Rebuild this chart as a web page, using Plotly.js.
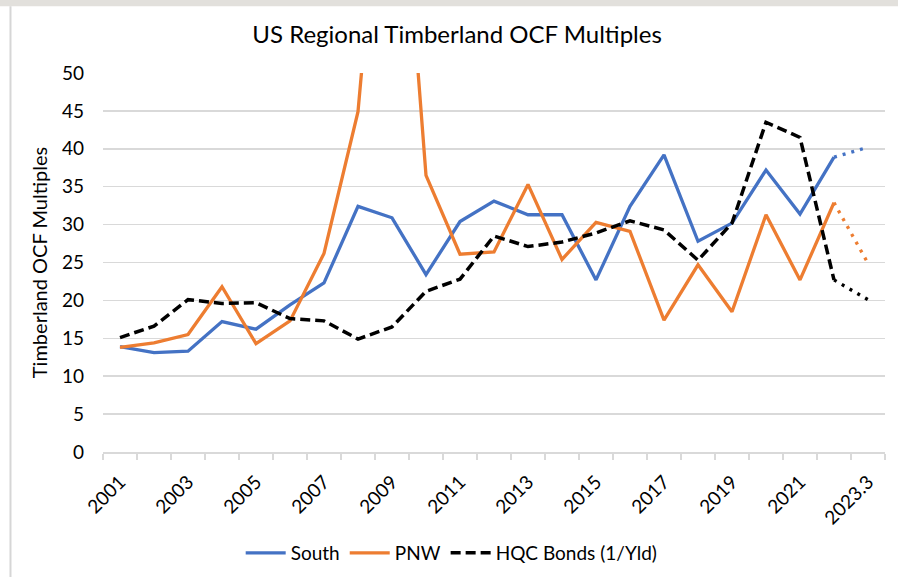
<!DOCTYPE html>
<html>
<head>
<meta charset="utf-8">
<script src="https://cdn.plot.ly/plotly-3.0.1.min.js"></script>
<style>
  html, body { margin: 0; padding: 0; background: #fff; }
  #chart { width: 898px; height: 577px; }
</style>
</head>
<body>
<div id="chart"></div>
<script>
const years = ["2001","2002","2003","2004","2005","2006","2007","2008","2009","2010","2011","2012","2013","2014","2015","2016","2017","2018","2019","2020","2021","2022","2023.3"];
const tickLabels = ["2001","","2003","","2005","","2007","","2009","","2011","","2013","","2015","","2017","","2019","","2021","","2023.3"];

const south = [13.9,13.1,13.3,17.2,16.2,19.4,22.3,32.4,30.9,23.4,30.4,33.1,31.3,31.3,22.7,32.4,39.2,27.8,30.2,37.2,31.4,38.9,40.2];
const pnw   = [13.8,14.4,15.5,21.8,14.3,17.3,26.2,44.9,95.0,36.5,26.1,26.4,35.3,25.4,30.3,29.1,17.4,24.7,18.5,31.3,22.7,32.9,24.9];
const hqc   = [15.1,16.6,20.1,19.6,19.7,17.6,17.3,14.9,16.5,21.2,22.8,28.5,27.1,27.7,28.9,30.5,29.3,25.3,30.2,43.5,41.5,22.7,20.1];

const BLUE = "#4472C4", ORANGE = "#ED7D31", BLACK = "#000000";
const nSolid = years.length - 1; // last point is the estimate (dotted)

function solidPart(arr) { return arr.map((v, i) => i < nSolid ? v : null); }
function dottedPart(arr) { return arr.map((v, i) => i >= nSolid - 1 ? v : null); }

const traces = [
  { x: years, y: solidPart(south), name: "South", type: "scatter", mode: "lines",
    line: { color: BLUE, width: 3.3 } },
  { x: years, y: solidPart(pnw), name: "PNW", type: "scatter", mode: "lines",
    line: { color: ORANGE, width: 3.3 } },
  { x: years, y: solidPart(hqc), name: "HQC Bonds (1/Yld)", type: "scatter", mode: "lines",
    line: { color: BLACK, width: 3.5, dash: "10px,5px" } },
  { x: years, y: dottedPart(south), name: "South est.", showlegend: false, type: "scatter", mode: "lines",
    line: { color: BLUE, width: 3.3, dash: "3px,6px" } },
  { x: years, y: dottedPart(pnw), name: "PNW est.", showlegend: false, type: "scatter", mode: "lines",
    line: { color: ORANGE, width: 3.3, dash: "3px,6px" } },
  { x: years, y: dottedPart(hqc), name: "HQC est.", showlegend: false, type: "scatter", mode: "lines",
    line: { color: BLACK, width: 3.3, dash: "3px,6px" } }
];

const FONT = "Lato, 'Open Sans', sans-serif";

const layout = {
  width: 898, height: 577,
  margin: { l: 103, r: 13, t: 73, b: 125 },
  paper_bgcolor: "#ffffff",
  plot_bgcolor: "#ffffff",
  font: { family: FONT, color: "#000000" },
  title: { text: "US Regional Timberland OCF Multiples", font: { size: 24, color: "#000" },
           x: 0.509, xref: "container", xanchor: "center", y: 0.94, yref: "container", yanchor: "middle" },
  xaxis: {
    type: "category",
    automargin: false,
    tickmode: "array", tickvals: years, ticktext: tickLabels,
    tickson: "boundaries",
    ticks: "outside", ticklen: 6, tickcolor: "#D9D9D9", tickwidth: 1.5,
    showline: true, linecolor: "#D9D9D9", linewidth: 1.5,
    showgrid: false, zeroline: false,
    tickangle: -45,
    ticklabelstandoff: 10,
    tickfont: { size: 19, color: "#000" },
    range: [-0.5, 22.5]
  },
  yaxis: {
    automargin: false,
    range: [0, 50], dtick: 5, tick0: 0,
    showgrid: true, gridcolor: "#D9D9D9", gridwidth: 1.5,
    zeroline: false, showline: false, ticks: "",
    ticklabelstandoff: 18,
    tickfont: { size: 19, color: "#000" },
    title: { text: "Timberland OCF Multiples", font: { size: 20, color: "#000" }, standoff: 8 }
  },
  legend: {
    orientation: "h", xref: "container", x: 0.503, xanchor: "center",
    yref: "container", y: 0.0416, yanchor: "middle",
    font: { size: 19, color: "#000" }, traceorder: "normal", itemwidth: 40
  },
  showlegend: true,
  shapes: [
    { type: "rect", xref: "paper", yref: "paper", x0: -0.2, x1: 1.1, y0: 1.1759, y1: 1.2,
      fillcolor: "#E2E0DC", line: { width: 0 }, layer: "below" },
    { type: "line", xref: "paper", yref: "paper", x0: -0.1183, x1: -0.1183, y0: 1.1759, y1: -0.35,
      line: { color: "#D6D6D6", width: 2 }, layer: "below" }
  ]
};

Plotly.newPlot("chart", traces, layout, { displayModeBar: false, staticPlot: true });
</script>
</body>
</html>
